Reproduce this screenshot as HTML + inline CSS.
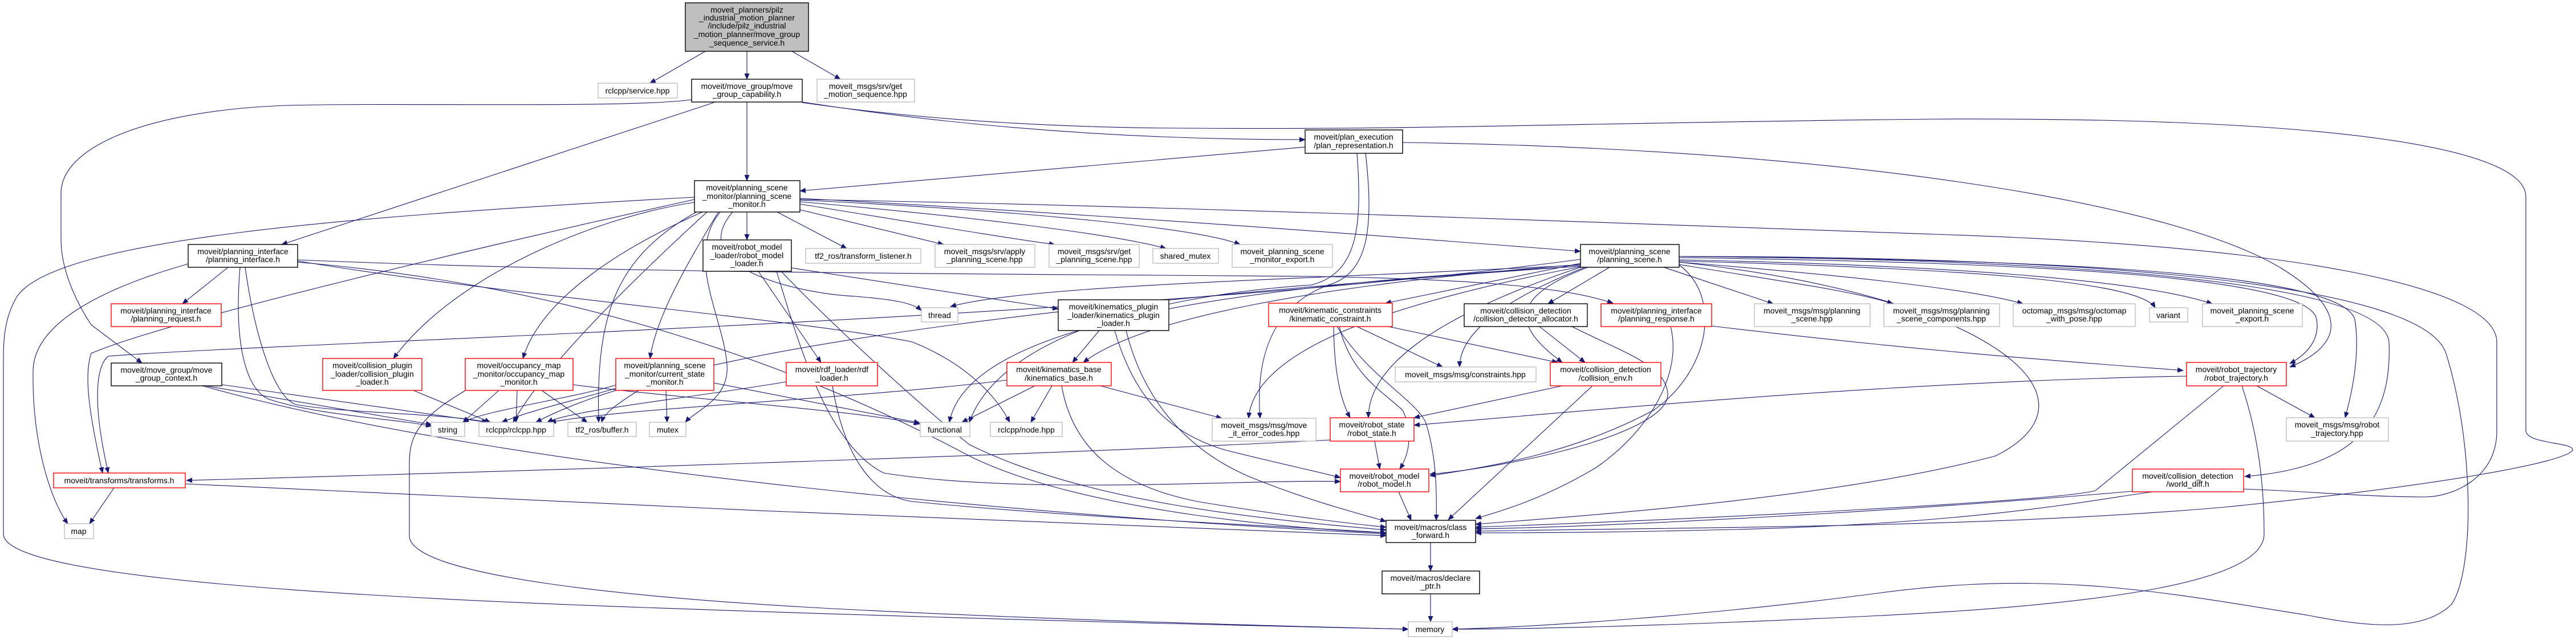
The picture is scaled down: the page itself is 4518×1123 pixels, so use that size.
<!DOCTYPE html>
<html><head><meta charset="utf-8"><style>
html,body{margin:0;padding:0;background:#fff}
svg{display:block}
text{font-family:"Liberation Sans","DejaVu Sans",sans-serif;font-size:14px;fill:#000;text-anchor:middle}
.e{fill:none;stroke:#191970;stroke-width:1.1;marker-end:url(#a)}
.k{fill:#fff;stroke:#000;stroke-width:1.4}
.r{fill:#fff;stroke:#ff0000;stroke-width:1.4}
.g{fill:#fff;stroke:#bfbfbf;stroke-width:1.4}
</style></head><body>
<svg width="4518" height="1123" viewBox="0 0 4518 1123" xmlns="http://www.w3.org/2000/svg">
<defs><marker id="a" markerWidth="11" markerHeight="9" refX="10" refY="4.5" orient="auto" markerUnits="userSpaceOnUse"><path d="M0,0L11,4.5L0,9z" fill="#191970"/></marker></defs>
<g>
<path class="e" d="M1237,90 L1140,146"/>
<path class="e" d="M1310,90 L1310,139"/>
<path class="e" d="M1389,90 L1474,139"/>
<path class="e" d="M1252,180 L494,429"/>
<path class="e" d="M1310,179 L1310,317"/>
<path class="e" d="M1407,179 C1700,225 2000,245 2289,245"/>
<path class="e" d="M1407,180 C1650,215 1900,225 2100,225 C2500,228 2800,215 3390,209 C4100,205 4430,260 4430,345 L4430,755 C4430,780 4515,775 4512,790 C4500,810 4300,850 3900,890 C3500,925 3000,925 2588,932"/>
<path class="e" d="M1213,175 C1100,190 700,180 500,185 C250,195 107,260 107,339 L107,420 C107,480 140,540 160,570 L249,637"/>
<path class="e" d="M400,469 L320,533"/>
<path class="e" d="M330,463 C200,500 60,560 58,650 C56,780 90,880 119,919"/>
<path class="e" d="M421,469 C410,600 430,680 470,700 C560,730 700,735 757,748"/>
<path class="e" d="M430,469 C445,580 480,700 520,710 C600,725 780,725 855,741"/>
<path class="e" d="M522,456 C1100,480 1700,480 2300,485 C2600,490 2750,505 2829,532"/>
<path class="e" d="M522,458 C900,520 1400,560 1600,600 C1700,640 1750,700 1771,741"/>
<path class="e" d="M522,460 C1000,500 1400,640 1700,800 C1900,900 2300,930 2431,935"/>
<path class="e" d="M389,675 L855,741"/>
<path class="e" d="M360,677 L757,745"/>
<path class="e" d="M355,677 C900,830 1900,910 2431,937"/>
<path class="e" d="M2333,772 C1800,800 800,830 327,843"/>
<path class="e" d="M200,856 L157,919"/>
<path class="e" d="M325,849 C900,880 1900,920 2431,940"/>
<path class="e" d="M725,685 L860,741"/>
<path class="e" d="M875,685 L812,741"/>
<path class="e" d="M907,685 L905,741"/>
<path class="e" d="M950,685 L1030,741"/>
<path class="e" d="M1005,675 C1200,700 1500,720 1613,744"/>
<path class="e" d="M820,683 C740,730 718,760 718,811 L718,940 C718,1010 1100,1050 1500,1070 C1900,1090 2300,1100 2470,1104"/>
<path class="e" d="M1168,685 L1170,741"/>
<path class="e" d="M1082,675 C1000,700 850,720 812,741"/>
<path class="e" d="M1120,685 C1080,710 1060,725 1055,741"/>
<path class="e" d="M1085,680 C1000,705 930,720 880,741"/>
<path class="e" d="M1252,672 L1613,742"/>
<path class="e" d="M1379,670 C1200,700 1000,720 960,741"/>
<path class="e" d="M1460,677 C1480,800 1530,870 1600,880 C1900,910 2300,925 2431,935"/>
<path class="e" d="M1928,580 L1881,636"/>
<path class="e" d="M1955,580 C1990,700 2050,760 2150,790 C2250,815 2300,825 2351,838"/>
<path class="e" d="M1975,580 C2010,720 2100,800 2200,840 C2300,880 2380,900 2431,915"/>
<path class="e" d="M1815,677 L1687,741"/>
<path class="e" d="M1845,677 L1808,741"/>
<path class="e" d="M1930,677 L2143,734"/>
<path class="e" d="M1862,677 C1880,780 1950,850 2100,880 C2250,905 2380,920 2431,925"/>
<path class="e" d="M1766,667 C1500,700 1100,715 965,741"/>
<path class="e" d="M1330,476 L1440,636"/>
<path class="e" d="M1388,470 L1856,542"/>
<path class="e" d="M1362,476 C1400,600 1450,780 1550,830 C1800,870 2200,840 2351,845"/>
<path class="e" d="M1370,476 C1450,560 1600,700 1700,780 C1900,880 2200,910 2431,930"/>
<path class="e" d="M1310,372 L1310,421"/>
<path class="e" d="M1363,372 L1485,436"/>
<path class="e" d="M1403,368 L1655,429"/>
<path class="e" d="M1403,358 C1600,390 1780,420 1850,429"/>
<path class="e" d="M1403,354 C1700,380 1950,410 2045,436"/>
<path class="e" d="M1403,351 C1800,370 2100,400 2175,429"/>
<path class="e" d="M1403,348 C2000,380 2500,420 2772,441"/>
<path class="e" d="M1403,350 C2000,360 2800,390 3390,411 C4000,430 4379,500 4379,600 L4379,757 C4379,840 4300,872 4253,872 C4100,872 3950,850 3800,860 C3700,870 3500,920 3000,930 C2800,935 2650,935 2588,935"/>
<path class="e" d="M1218,346 C600,380 100,420 30,520 C6,560 6,600 6,640 L6,937 C6,1000 400,1040 1130,1066 C1800,1090 2300,1100 2470,1104"/>
<path class="e" d="M1218,355 C1050,380 800,480 690,629"/>
<path class="e" d="M1232,372 C1100,430 950,520 917,629"/>
<path class="e" d="M1260,372 C1200,470 1150,560 1140,629"/>
<path class="e" d="M1225,370 C1080,450 1045,550 1050,741"/>
<path class="e" d="M1263,372 C1200,450 1270,560 1275,640 C1280,700 1220,720 1202,741"/>
<path class="e" d="M1285,372 C1200,470 1400,515 1500,520 C1560,525 1600,530 1616,545"/>
<path class="e" d="M1218,350 C900,420 300,560 160,620 C150,650 150,700 180,830"/>
<path class="e" d="M2772,455 C2000,560 500,600 190,625 C170,640 160,700 190,830"/>
<path class="e" d="M1240,372 C1100,500 950,650 900,741"/>
<path class="e" d="M2823,469 L2715,533"/>
<path class="e" d="M2772,462 L2430,532"/>
<path class="e" d="M2918,469 L3110,533"/>
<path class="e" d="M2945,464 C3100,490 3250,510 3320,533"/>
<path class="e" d="M2945,460 C3200,480 3450,505 3548,533"/>
<path class="e" d="M2945,458 C3400,470 3750,490 3780,540"/>
<path class="e" d="M2945,456 C3400,465 3750,490 3880,533"/>
<path class="e" d="M2945,452 C3500,460 4050,480 4063,560 C4070,600 4040,625 4016,638"/>
<path class="e" d="M2945,450 C3500,455 4100,470 4130,560 C4140,620 4125,690 4113,733"/>
<path class="e" d="M2945,450 C3600,455 4180,490 4190,600 C4195,720 4150,820 3937,836"/>
<path class="e" d="M2945,450 C3700,450 4250,500 4290,620 C4340,780 4340,1000 4300,1060 C4250,1110 4150,1100 4050,1080 C3800,1040 3600,1000 3300,1040 C3000,1080 2700,1100 2547,1104"/>
<path class="e" d="M2772,465 C2300,490 1800,500 1667,538"/>
<path class="e" d="M2772,467 C2200,500 1700,560 1665,741"/>
<path class="e" d="M2772,468 C2500,520 2200,600 2190,734"/>
<path class="e" d="M2772,469 C2500,560 2400,650 2400,733"/>
<path class="e" d="M2945,465 C3020,520 3000,650 2900,720 C2750,800 2600,820 2508,835"/>
<path class="e" d="M2785,469 C2650,520 2650,570 2740,636"/>
<path class="e" d="M2780,469 C2650,520 2560,580 2560,644"/>
<path class="e" d="M2772,464 C2300,500 2000,560 1900,636"/>
<path class="e" d="M2945,460 C3500,520 3700,700 3500,800 C3200,880 2700,910 2588,920"/>
<path class="e" d="M2772,467 C2000,520 1200,600 940,741"/>
<path class="e" d="M2289,258 L1403,335"/>
<path class="e" d="M2460,250 C3200,260 3800,350 4000,470 C4130,550 4100,610 4016,644"/>
<path class="e" d="M2380,269 C2390,400 2380,480 2300,500 C2000,520 1750,600 1700,741"/>
<path class="e" d="M2395,269 C2410,400 2400,480 2330,500 C2250,530 2200,600 2210,734"/>
<path class="e" d="M2380,573 L2530,644"/>
<path class="e" d="M2435,573 L2732,636"/>
<path class="e" d="M2339,573 C2340,650 2350,700 2368,733"/>
<path class="e" d="M2349,573 C2370,660 2430,690 2460,720 C2480,760 2470,800 2455,823"/>
<path class="e" d="M2345,573 C2400,660 2480,700 2500,740 C2520,800 2520,870 2519,913"/>
<path class="e" d="M2700,573 L2780,636"/>
<path class="e" d="M2757,573 C2850,620 2920,640 2925,690 C2930,760 2650,820 2508,832"/>
<path class="e" d="M2740,677 L2480,733"/>
<path class="e" d="M2793,677 L2540,912"/>
<path class="e" d="M2411,774 L2420,823"/>
<path class="e" d="M2453,863 L2475,913"/>
<path class="e" d="M2509,952 L2509,1002"/>
<path class="e" d="M2509,1042 L2509,1091"/>
<path class="e" d="M3835,660 C3300,670 2800,720 2480,746"/>
<path class="e" d="M3958,677 L4060,733"/>
<path class="e" d="M3900,677 L3675,861 C3600,880 3000,910 2588,925"/>
<path class="e" d="M3932,677 C3960,760 3971,850 3971,937 C3971,1020 3700,1060 3300,1080 C2900,1100 2650,1104 2547,1104"/>
<path class="e" d="M3740,862 C3300,900 2800,925 2588,928"/>
<path class="e" d="M3002,572 C3400,620 3700,640 3829,650"/>
<path class="e" d="M2930,573 C2950,650 2900,750 2800,820 C2700,880 2620,900 2588,910"/>
</g>
<g>
<rect x="1202" y="5" width="216" height="85" fill="#bfbfbf" stroke="#000" stroke-width="1.4"/>
<text x="1310" y="22">moveit_planners/pilz</text><text x="1310" y="36">_industrial_motion_planner</text><text x="1310" y="50">/include/pilz_industrial</text><text x="1310" y="65">_motion_planner/move_group</text><text x="1310" y="80">_sequence_service.h</text>

<rect class="g" x="1049" y="146" width="139" height="26"/><text x="1118" y="164">rclcpp/service.hpp</text>
<rect class="k" x="1213" y="139" width="194" height="40"/><text x="1310" y="156">moveit/move_group/move</text><text x="1310" y="170">_group_capability.h</text>
<rect class="g" x="1433" y="139" width="171" height="40"/><text x="1518" y="156">moveit_msgs/srv/get</text><text x="1518" y="170">_motion_sequence.hpp</text>
<rect class="k" x="1218" y="317" width="185" height="55"/><text x="1310" y="334">moveit/planning_scene</text><text x="1310" y="349">_monitor/planning_scene</text><text x="1310" y="363">_monitor.h</text>
<rect class="k" x="1233" y="421" width="155" height="55"/><text x="1310" y="438">moveit/robot_model</text><text x="1310" y="453">_loader/robot_model</text><text x="1310" y="467">_loader.h</text>
<rect class="g" x="1413" y="436" width="202" height="26"/><text x="1514" y="454">tf2_ros/transform_listener.h</text>
<rect class="g" x="1640" y="429" width="175" height="40"/><text x="1727" y="446">moveit_msgs/srv/apply</text><text x="1727" y="460">_planning_scene.hpp</text>
<rect class="g" x="1840" y="429" width="158" height="40"/><text x="1919" y="446">moveit_msgs/srv/get</text><text x="1919" y="460">_planning_scene.hpp</text>
<rect class="g" x="2022" y="436" width="115" height="26"/><text x="2079" y="454">shared_mutex</text>
<rect class="g" x="2161" y="429" width="176" height="40"/><text x="2249" y="446">moveit_planning_scene</text><text x="2249" y="460">_monitor_export.h</text>
<rect class="g" x="1616" y="540" width="64" height="25"/><text x="1648" y="558">thread</text>
<rect class="k" x="1856" y="526" width="194" height="54"/><text x="1953" y="543">moveit/kinematics_plugin</text><text x="1953" y="558">_loader/kinematics_plugin</text><text x="1953" y="572">_loader.h</text>
<rect class="r" x="2225" y="532" width="217" height="41"/><text x="2333" y="549">moveit/kinematic_constraints</text><text x="2333" y="564">/kinematic_constraint.h</text>
<rect class="r" x="1080" y="629" width="172" height="56"/><text x="1166" y="646">moveit/planning_scene</text><text x="1166" y="661">_monitor/current_state</text><text x="1166" y="675">_monitor.h</text>
<rect class="g" x="1139" y="741" width="64" height="25"/><text x="1171" y="759">mutex</text>
<rect class="r" x="1379" y="636" width="160" height="41"/><text x="1459" y="653">moveit/rdf_loader/rdf</text><text x="1459" y="668">_loader.h</text>
<rect class="g" x="1614" y="741" width="87" height="25"/><text x="1657" y="759">functional</text>
<rect class="g" x="1737" y="741" width="126" height="25"/><text x="1800" y="759">rclcpp/node.hpp</text>
<rect class="r" x="1766" y="636" width="183" height="41"/><text x="1857" y="653">moveit/kinematics_base</text><text x="1857" y="668">/kinematics_base.h</text>
<rect class="g" x="2126" y="734" width="182" height="40"/><text x="2217" y="751">moveit_msgs/msg/move</text><text x="2217" y="765">_it_error_codes.hpp</text>
<rect class="r" x="195" y="533" width="193" height="40"/><text x="291" y="550">moveit/planning_interface</text><text x="291" y="564">/planning_request.h</text>
<rect class="k" x="330" y="429" width="192" height="40"/><text x="426" y="446">moveit/planning_interface</text><text x="426" y="460">/planning_interface.h</text>
<rect class="k" x="195" y="637" width="194" height="40"/><text x="292" y="654">moveit/move_group/move</text><text x="292" y="668">_group_context.h</text>
<rect class="r" x="566" y="629" width="174" height="56"/><text x="653" y="646">moveit/collision_plugin</text><text x="653" y="661">_loader/collision_plugin</text><text x="653" y="675">_loader.h</text>
<rect class="r" x="816" y="629" width="189" height="56"/><text x="910" y="646">moveit/occupancy_map</text><text x="910" y="661">_monitor/occupancy_map</text><text x="910" y="675">_monitor.h</text>
<rect class="g" x="756" y="741" width="59" height="25"/><text x="785" y="759">string</text>
<rect class="g" x="840" y="741" width="131" height="25"/><text x="905" y="759">rclcpp/rclcpp.hpp</text>
<rect class="g" x="996" y="741" width="120" height="25"/><text x="1056" y="759">tf2_ros/buffer.h</text>
<rect class="r" x="94" y="830" width="231" height="26"/><text x="209" y="848">moveit/transforms/transforms.h</text>
<rect class="g" x="113" y="919" width="51" height="26"/><text x="138" y="937">map</text>
<rect class="k" x="2289" y="228" width="171" height="41"/><text x="2374" y="245">moveit/plan_execution</text><text x="2374" y="260">/plan_representation.h</text>
<rect class="k" x="2772" y="429" width="173" height="40"/><text x="2858" y="446">moveit/planning_scene</text><text x="2858" y="460">/planning_scene.h</text>
<rect class="k" x="2568" y="533" width="216" height="40"/><text x="2676" y="550">moveit/collision_detection</text><text x="2676" y="564">/collision_detector_allocator.h</text>
<rect class="r" x="2808" y="533" width="194" height="40"/><text x="2905" y="550">moveit/planning_interface</text><text x="2905" y="564">/planning_response.h</text>
<rect class="g" x="3077" y="533" width="203" height="40"/><text x="3178" y="550">moveit_msgs/msg/planning</text><text x="3178" y="564">_scene.hpp</text>
<rect class="g" x="3304" y="533" width="203" height="40"/><text x="3405" y="550">moveit_msgs/msg/planning</text><text x="3405" y="564">_scene_components.hpp</text>
<rect class="g" x="3531" y="533" width="214" height="40"/><text x="3638" y="550">octomap_msgs/msg/octomap</text><text x="3638" y="564">_with_pose.hpp</text>
<rect class="g" x="3770" y="540" width="67" height="25"/><text x="3803" y="558">variant</text>
<rect class="g" x="3863" y="533" width="175" height="40"/><text x="3950" y="550">moveit_planning_scene</text><text x="3950" y="564">_export.h</text>
<rect class="g" x="2447" y="644" width="247" height="26"/><text x="2570" y="662">moveit_msgs/msg/constraints.hpp</text>
<rect class="r" x="2719" y="636" width="194" height="41"/><text x="2816" y="653">moveit/collision_detection</text><text x="2816" y="668">/collision_env.h</text>
<rect class="r" x="2333" y="733" width="147" height="41"/><text x="2406" y="750">moveit/robot_state</text><text x="2406" y="765">/robot_state.h</text>
<rect class="r" x="2351" y="823" width="155" height="40"/><text x="2428" y="840">moveit/robot_model</text><text x="2428" y="854">/robot_model.h</text>
<rect class="k" x="2431" y="913" width="157" height="39"/><text x="2509" y="930">moveit/macros/class</text><text x="2509" y="944">_forward.h</text>
<rect class="k" x="2424" y="1002" width="171" height="40"/><text x="2509" y="1019">moveit/macros/declare</text><text x="2509" y="1033">_ptr.h</text>
<rect class="g" x="2470" y="1091" width="77" height="26"/><text x="2508" y="1109">memory</text>
<rect class="r" x="3835" y="636" width="175" height="41"/><text x="3922" y="653">moveit/robot_trajectory</text><text x="3922" y="668">/robot_trajectory.h</text>
<rect class="g" x="4010" y="733" width="179" height="41"/><text x="4099" y="750">moveit_msgs/msg/robot</text><text x="4099" y="765">_trajectory.hpp</text>
<rect class="r" x="3740" y="823" width="195" height="40"/><text x="3837" y="840">moveit/collision_detection</text><text x="3837" y="854">/world_diff.h</text>
</g>
</svg>
</body></html>
